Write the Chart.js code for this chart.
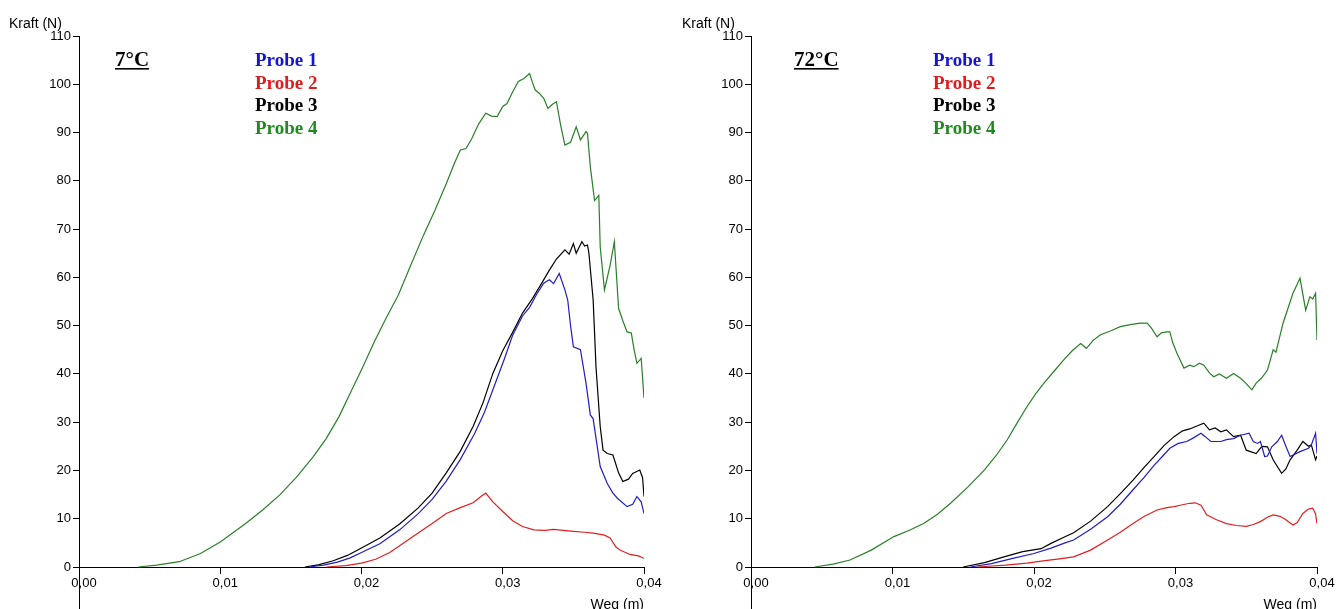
<!DOCTYPE html>
<html>
<head>
<meta charset="utf-8">
<script src="https://cdn.jsdelivr.net/npm/chart.js@4/dist/chart.umd.min.js"></script>
<style>
  html, body { margin: 0; padding: 0; background: #fff; }
  #wrap { display: flex; width: 1338px; height: 609px; }
</style>
</head>
<body>
<div id="wrap">
  <canvas id="chart7" width="669" height="609"></canvas>
  <canvas id="chart72" width="669" height="609"></canvas>
</div>
<script>
// Axis ticks
const wegTicks = [0, 0.01, 0.02, 0.03, 0.04];
const kraftTicks = [0, 10, 20, 30, 40, 50, 60, 70, 80, 90, 100, 110];
const probeNames = ['Probe 1', 'Probe 2', 'Probe 3', 'Probe 4'];

// ---- 7°C ----
const weg7P1 = [0.0163, 0.0173, 0.0183, 0.0192, 0.0200, 0.0213, 0.0227, 0.0240, 0.0250, 0.0260, 0.0270, 0.0280, 0.0287, 0.0294, 0.0301, 0.0307, 0.0314, 0.0319, 0.0324, 0.0329, 0.0333, 0.0336, 0.0340, 0.0344, 0.0346, 0.0348, 0.0350, 0.0355, 0.0359, 0.0362, 0.0364, 0.0369, 0.0374, 0.0378, 0.0381, 0.0388, 0.0392, 0.0395, 0.0398, 0.0400];
const kraft7P1 = [0, 0.4, 1.0, 1.9, 3.0, 4.8, 7.7, 11.0, 14.0, 17.8, 22.3, 27.6, 32.0, 37.5, 43.0, 48.0, 52.0, 53.8, 56.5, 58.8, 59.5, 58.7, 60.8, 57.4, 55.3, 50.0, 45.6, 45.0, 38.0, 31.5, 30.7, 20.8, 17.3, 15.3, 14.3, 12.5, 13.0, 14.6, 13.5, 11.1];

const weg7P2 = [0.0175, 0.0189, 0.0200, 0.0210, 0.0220, 0.0236, 0.0250, 0.0260, 0.0270, 0.0279, 0.0285, 0.0288, 0.0293, 0.0300, 0.0307, 0.0314, 0.0322, 0.0330, 0.0336, 0.0343, 0.0350, 0.0358, 0.0364, 0.0372, 0.0376, 0.0380, 0.0383, 0.0390, 0.0396, 0.0400];
const kraft7P2 = [0, 0.3, 0.8, 1.6, 3.0, 6.2, 9.0, 11.1, 12.3, 13.3, 14.7, 15.3, 13.5, 11.5, 9.6, 8.4, 7.7, 7.6, 7.8, 7.6, 7.4, 7.2, 7.0, 6.6, 6.0, 4.2, 3.5, 2.6, 2.3, 1.8];

const weg7P3 = [0.0160, 0.0170, 0.0180, 0.0190, 0.0199, 0.0213, 0.0227, 0.0240, 0.0250, 0.0260, 0.0270, 0.0279, 0.0286, 0.0293, 0.0300, 0.0307, 0.0314, 0.0321, 0.0327, 0.0333, 0.0338, 0.0344, 0.0347, 0.0350, 0.0352, 0.0356, 0.0358, 0.0360, 0.0361, 0.0364, 0.0365, 0.0366, 0.0369, 0.0371, 0.0374, 0.0378, 0.0382, 0.0385, 0.0389, 0.0392, 0.0397, 0.0399, 0.0400];
const kraft7P3 = [0, 0.5, 1.3, 2.4, 3.8, 6.0, 8.9, 12.2, 15.3, 19.5, 24.0, 29.1, 34.0, 40.1, 44.8, 48.6, 52.6, 55.6, 58.5, 61.5, 63.8, 65.7, 64.8, 67.0, 65.0, 67.4, 66.5, 66.7, 65.0, 55.3, 48.5, 41.5, 29.1, 24.2, 23.5, 23.2, 19.5, 17.7, 18.2, 19.4, 20.1, 18.5, 14.6];

const weg7P4 = [0.0042, 0.0055, 0.0071, 0.0086, 0.0100, 0.0118, 0.0130, 0.0142, 0.0154, 0.0166, 0.0175, 0.0184, 0.0192, 0.0201, 0.0209, 0.0218, 0.0226, 0.0235, 0.0244, 0.0252, 0.0260, 0.0266, 0.0270, 0.0274, 0.0278, 0.0283, 0.0288, 0.0292, 0.0296, 0.0300, 0.0303, 0.0307, 0.0311, 0.0315, 0.0319, 0.0321, 0.0323, 0.0326, 0.0329, 0.0332, 0.0335, 0.0338, 0.0341, 0.0344, 0.0348, 0.0352, 0.0355, 0.0359, 0.0360, 0.0362, 0.0365, 0.0368, 0.0369, 0.0372, 0.0376, 0.0379, 0.0382, 0.0385, 0.0388, 0.0391, 0.0393, 0.0395, 0.0398, 0.0400];
const kraft7P4 = [0, 0.4, 1.1, 2.8, 5.2, 9.0, 11.8, 14.9, 18.6, 22.9, 26.6, 31.1, 36.0, 41.5, 46.6, 51.9, 56.3, 62.6, 68.8, 73.9, 79.4, 83.8, 86.4, 86.7, 88.7, 91.8, 94.0, 93.4, 93.3, 95.4, 96.0, 98.4, 100.6, 101.2, 102.2, 100.4, 98.8, 98.1, 97.1, 95.0, 95.8, 96.4, 91.5, 87.4, 88.0, 91.2, 88.5, 90.2, 89.8, 82.9, 75.9, 77.0, 66.3, 57.4, 62.5, 67.4, 53.6, 51.0, 48.7, 48.5, 45.0, 42.2, 43.2, 35.0];

// ---- 72°C ----
const weg72P1 = [0.0155, 0.0170, 0.0185, 0.0200, 0.0212, 0.0222, 0.0228, 0.0240, 0.0252, 0.0261, 0.0270, 0.0278, 0.0285, 0.0291, 0.0296, 0.0302, 0.0308, 0.0313, 0.0318, 0.0321, 0.0325, 0.0332, 0.0336, 0.0341, 0.0346, 0.0352, 0.0355, 0.0358, 0.0360, 0.0363, 0.0365, 0.0368, 0.0372, 0.0375, 0.0378, 0.0381, 0.0388, 0.0394, 0.0396, 0.0399, 0.0400];
const kraft72P1 = [0, 0.7, 1.8, 2.8, 3.9, 5.0, 5.6, 7.8, 10.4, 13.0, 16.0, 18.6, 21.1, 23.0, 24.6, 25.6, 26.0, 26.8, 27.7, 27.0, 26.0, 26.0, 26.4, 26.6, 27.3, 27.7, 26.0, 25.6, 26.0, 22.9, 23.0, 24.9, 26.0, 27.3, 25.0, 22.9, 23.9, 24.6, 25.3, 27.7, 23.5];

const weg72P2 = [0.0160, 0.0180, 0.0195, 0.0205, 0.0218, 0.0228, 0.0240, 0.0252, 0.0261, 0.0270, 0.0278, 0.0287, 0.0294, 0.0299, 0.0305, 0.0310, 0.0314, 0.0318, 0.0322, 0.0329, 0.0336, 0.0343, 0.0350, 0.0355, 0.0360, 0.0365, 0.0369, 0.0374, 0.0378, 0.0383, 0.0386, 0.0390, 0.0394, 0.0397, 0.0399, 0.0400];
const kraft72P2 = [0, 0.4, 0.8, 1.2, 1.7, 2.1, 3.5, 5.6, 7.2, 9.0, 10.5, 11.8, 12.3, 12.5, 12.9, 13.2, 13.3, 12.8, 10.8, 9.8, 9.0, 8.6, 8.4, 8.8, 9.4, 10.3, 10.8, 10.5, 9.8, 8.7, 9.2, 11.1, 12.0, 12.2, 11.0, 9.0];

const weg72P3 = [0.0150, 0.0165, 0.0180, 0.0192, 0.0205, 0.0212, 0.0220, 0.0228, 0.0240, 0.0252, 0.0261, 0.0270, 0.0278, 0.0285, 0.0292, 0.0299, 0.0305, 0.0310, 0.0316, 0.0320, 0.0324, 0.0328, 0.0332, 0.0336, 0.0341, 0.0346, 0.0350, 0.0357, 0.0361, 0.0365, 0.0369, 0.0375, 0.0378, 0.0381, 0.0386, 0.0390, 0.0394, 0.0396, 0.0399, 0.0400];
const kraft72P3 = [0, 0.9, 2.2, 3.2, 3.8, 4.9, 6.0, 7.1, 9.5, 12.5, 15.2, 18.0, 20.7, 22.9, 25.2, 27.0, 28.2, 28.6, 29.3, 29.8, 28.4, 28.8, 28.0, 28.4, 27.0, 27.3, 24.2, 23.5, 25.0, 24.9, 22.2, 19.4, 20.3, 22.2, 24.2, 26.0, 25.0, 25.3, 22.2, 23.0];

const weg72P4 = [0.0045, 0.0058, 0.0070, 0.0085, 0.0101, 0.0112, 0.0122, 0.0132, 0.0141, 0.0153, 0.0165, 0.0173, 0.0181, 0.0188, 0.0195, 0.0201, 0.0207, 0.0214, 0.0221, 0.0227, 0.0233, 0.0237, 0.0242, 0.0247, 0.0254, 0.0261, 0.0268, 0.0275, 0.0280, 0.0283, 0.0287, 0.0290, 0.0294, 0.0296, 0.0298, 0.0301, 0.0306, 0.0310, 0.0313, 0.0317, 0.0320, 0.0324, 0.0327, 0.0331, 0.0336, 0.0341, 0.0346, 0.0350, 0.0354, 0.0357, 0.0361, 0.0365, 0.0369, 0.0371, 0.0376, 0.0383, 0.0388, 0.0392, 0.0395, 0.0397, 0.0399, 0.0400];
const kraft72P4 = [0, 0.6, 1.45, 3.5, 6.3, 7.6, 9.0, 11.0, 13.2, 16.5, 20.1, 23.0, 26.3, 29.8, 33.2, 35.8, 38.1, 40.5, 42.9, 44.8, 46.3, 45.3, 47.0, 48.1, 48.9, 49.8, 50.2, 50.5, 50.5, 49.5, 47.7, 48.5, 48.7, 48.7, 46.5, 44.3, 41.2, 41.8, 41.5, 42.2, 41.8, 40.2, 39.4, 40.0, 39.1, 40.1, 39.1, 38.0, 36.7, 38.1, 39.2, 40.8, 45.0, 44.5, 50.5, 56.7, 59.8, 53.2, 56.0, 55.5, 56.7, 47.0];

const lineColors = ['#1f1fbf', '#e02020', '#000000', '#2a7f2a'];
const textColors = ['#1414d2', '#e01c1c', '#000000', '#208a20'];

// Draws the axis titles, the temperature heading and the probe list
const notesPlugin = {
  id: 'notes',
  afterDraw(chart, args, o) {
    const ctx = chart.ctx;
    const area = chart.chartArea;
    ctx.save();
    ctx.fillStyle = '#000';
    ctx.font = '14px "Liberation Sans", Arial, sans-serif';
    ctx.textBaseline = 'alphabetic';
    ctx.textAlign = 'left';
    ctx.fillText('Kraft (N)', o.kraftX, 28);
    ctx.textAlign = 'right';
    ctx.fillText('Weg (m)', area.right, 609);

    ctx.textAlign = 'left';
    ctx.font = 'bold 21px "Liberation Serif", "Times New Roman", serif';
    ctx.fillText(o.heading, o.headingX, 66);
    const w = ctx.measureText(o.heading).width;
    ctx.fillRect(o.headingX, 68, w, 1.6);

    ctx.font = 'bold 19px "Liberation Serif", "Times New Roman", serif';
    probeNames.forEach((name, i) => {
      ctx.fillStyle = textColors[i];
      ctx.fillText(name, o.probeX, 66 + i * 22.7);
    });
    ctx.restore();
  }
};

function buildChart(id, wegs, krafts, o) {
  const datasets = wegs.map((weg, i) => ({
    label: probeNames[i],
    data: weg.map((x, j) => ({ x, y: krafts[i][j] })),
    borderColor: lineColors[i],
    borderWidth: 1.2,
    pointRadius: 0,
    tension: 0,
    fill: false
  }));
  const axisFont = { family: '"Liberation Sans", Arial, sans-serif', size: 13 };

  return new Chart(document.getElementById(id), {
    type: 'line',
    data: { datasets },
    options: {
      responsive: false,
      animation: false,
      events: [],
      layout: { padding: { top: 36, right: o.padRight, bottom: 0, left: 0 } },
      plugins: {
        legend: { display: false },
        tooltip: { enabled: false },
        notes: o
      },
      scales: {
        x: {
          type: 'linear',
          min: 0,
          max: 0.04,
          position: { y: 0 },
          afterBuildTicks: s => { s.ticks = wegTicks.map(v => ({ value: v })); },
          afterFit: s => { s.paddingTop = 0; s.paddingBottom = 0; },
          ticks: {
            callback: v => v.toFixed(2).replace('.', ','),
            font: axisFont,
            color: '#000',
            padding: 3,
            labelOffset: 5,
            maxRotation: 0,
            autoSkip: false
          },
          grid: { display: true, drawOnChartArea: false, drawTicks: true, tickLength: 6, color: '#000' },
          border: { display: true, color: '#000', width: 1 }
        },
        y: {
          type: 'linear',
          min: -8.7,
          max: 110,
          afterBuildTicks: s => { s.ticks = kraftTicks.map(v => ({ value: v })); },
          afterFit: s => { s.width = o.axisLeft; s.paddingTop = 0; s.paddingBottom = 0; },
          ticks: { font: axisFont, color: '#000', padding: 2 },
          grid: { display: true, drawOnChartArea: false, drawTicks: true, tickLength: 6, color: '#000' },
          border: { display: true, color: '#000', width: 1 }
        }
      }
    },
    plugins: [notesPlugin]
  });
}

buildChart('chart7',
  [weg7P1, weg7P2, weg7P3, weg7P4],
  [kraft7P1, kraft7P2, kraft7P3, kraft7P4],
  { heading: '7°C', headingX: 115, probeX: 255, kraftX: 9, axisLeft: 79, padRight: 25 });

buildChart('chart72',
  [weg72P1, weg72P2, weg72P3, weg72P4],
  [kraft72P1, kraft72P2, kraft72P3, kraft72P4],
  { heading: '72°C', headingX: 125, probeX: 264, kraftX: 13, axisLeft: 82, padRight: 21 });
</script>
</body>
</html>
